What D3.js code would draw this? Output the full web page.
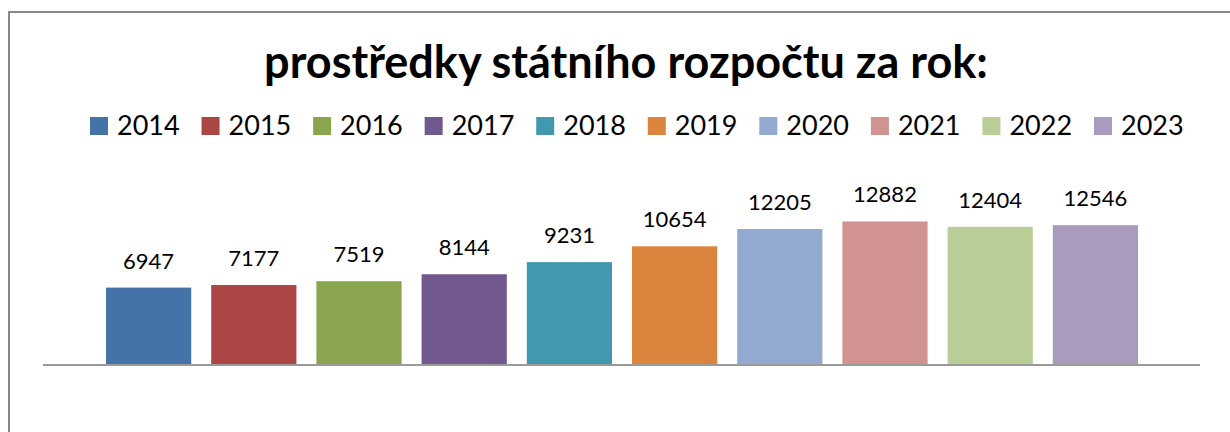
<!DOCTYPE html>
<html>
<head>
<meta charset="utf-8">
<script src="https://cdn.jsdelivr.net/npm/d3@7"></script>
<style>
  body { margin: 0; background: #fff; }
  text { font-family: Lato, "Open Sans", sans-serif; fill: #000; }
</style>
</head>
<body>
<svg id="graf" width="1230" height="432"></svg>
<script>
const roky = ["2014", "2015", "2016", "2017", "2018", "2019", "2020", "2021", "2022", "2023"];
const hodnoty = [6947, 7177, 7519, 8144, 9231, 10654, 12205, 12882, 12404, 12546];
const barvy = ["#4572a7", "#aa4643", "#89a54e", "#71588f", "#4198af", "#db843d",
               "#93a9cf", "#d19392", "#b9cd96", "#a99bbd"];
const nadpis = "prostředky státního rozpočtu za rok:";

const svg = d3.select("#graf");

// ramecek grafu
svg.append("path")
    .attr("d", "M9,432 V12 H1230")
    .attr("fill", "none")
    .attr("stroke", "#878787")
    .attr("stroke-width", 2);

const x = d3.scaleBand()
    .domain(roky)
    .range([96, 1148])
    .paddingInner(0.19)
    .paddingOuter(0.095);

const y = d3.scaleLinear()
    .domain([0, 14000])
    .range([365, 209]);

const barva = d3.scaleOrdinal().domain(roky).range(barvy);

const data = roky.map((r, i) => ({ rok: r, hodnota: hodnoty[i] }));

// sloupce
svg.selectAll(".sloupec")
    .data(data)
    .enter()
    .append("rect")
    .attr("class", "sloupec")
    .attr("x", d => x(d.rok))
    .attr("y", d => y(d.hodnota))
    .attr("width", x.bandwidth())
    .attr("height", d => y(0) - y(d.hodnota))
    .attr("fill", d => barva(d.rok));

// osa x
svg.append("line")
    .attr("x1", 43)
    .attr("x2", 1200)
    .attr("y1", y(0))
    .attr("y2", y(0))
    .attr("stroke", "#9a9a9a")
    .attr("stroke-width", 2);

// popisky hodnot
svg.selectAll(".popisek")
    .data(data)
    .enter()
    .append("text")
    .attr("class", "popisek")
    .attr("x", d => x(d.rok) + x.bandwidth() / 2)
    .attr("y", d => y(d.hodnota) - 19)
    .attr("text-anchor", "middle")
    .attr("font-size", 22)
    .text(d => d.hodnota);

// nadpis
svg.append("text")
    .attr("x", 626)
    .attr("y", 78)
    .attr("text-anchor", "middle")
    .attr("font-size", 45)
    .attr("font-weight", "bold")
    .text(nadpis);

// legenda
const leg = d3.scalePoint()
    .domain(roky)
    .range([90, 1094]);

const polozky = svg.selectAll(".legenda")
    .data(roky)
    .enter()
    .append("g")
    .attr("class", "legenda")
    .attr("transform", d => `translate(${leg(d)},117)`);

polozky.append("rect")
    .attr("width", 18)
    .attr("height", 18)
    .attr("fill", d => barva(d));

polozky.append("text")
    .attr("x", 27)
    .attr("y", 18)
    .attr("font-size", 27)
    .text(d => d);
</script>
</body>
</html>
